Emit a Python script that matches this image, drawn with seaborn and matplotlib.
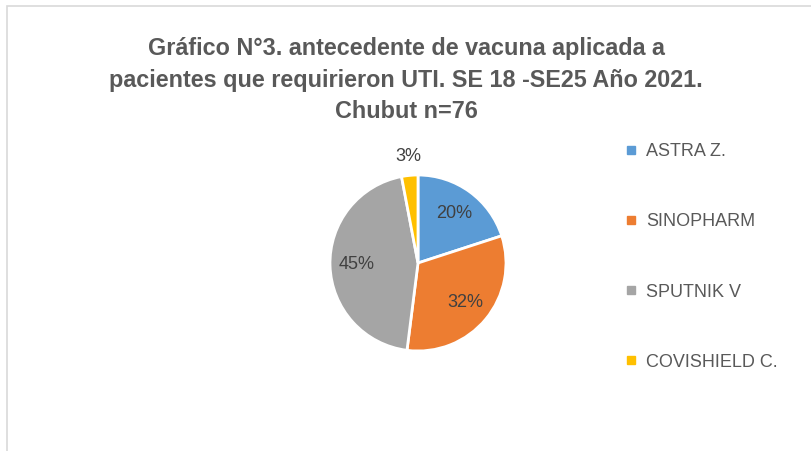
import matplotlib
matplotlib.use("Agg")
import matplotlib.pyplot as plt
import seaborn as sns
from matplotlib.lines import Line2D
from matplotlib.patches import Rectangle

# data
vacunas = ["ASTRA Z.", "SINOPHARM", "SPUTNIK V", "COVISHIELD C."]
porcentajes = [20, 32, 45, 3]
colores = ["#5B9BD5", "#ED7D31", "#A5A5A5", "#FFC000"]
titulo = ("Gráfico N°3. antecedente de vacuna aplicada a\n"
          "pacientes que requirieron UTI. SE 18 -SE25 Año 2021.\n"
          "Chubut n=76")

sns.set_theme(style="white")
plt.rcParams["font.family"] = ["Liberation Sans", "DejaVu Sans"]
texto = "#595959"

fig = plt.figure(figsize=(8.12, 4.51), dpi=100)

# chart frame (only top and left visible in the crop)
fig.patches.append(Rectangle((7 / 812, -0.1), 1.2, (451 - 6) / 451 + 0.1,
                             transform=fig.transFigure, fill=False,
                             edgecolor="#D9D9D9", linewidth=1.2))

fig.text(0.5, 1 - 80 / 451, titulo, ha="center", va="center", fontsize=16.8,
         fontweight="bold", color=texto, linespacing=1.5)

# pie axes centred at (418, 263) px, radius 88 px
r = 88
ax = fig.add_axes([(418 - r) / 812, (451 - 263 - r) / 451, 2 * r / 812, 2 * r / 451])
wedges, textos, autotextos = ax.pie(
    porcentajes, colors=colores, startangle=90, counterclock=False,
    autopct=lambda p: f"{p:.0f}%", pctdistance=0.7,
    wedgeprops=dict(edgecolor="white", linewidth=2),
    textprops=dict(color="#404040", fontsize=13))
ax.set_xlim(-1, 1)
ax.set_ylim(-1, 1)

# small slices: label outside the pie
for t, p in zip(autotextos, porcentajes):
    if p < 5:
        x, y = t.get_position()
        t.set_position((x * 1.22 / 0.7, y * 1.22 / 0.7))

handles = [Line2D([], [], marker="s", linestyle="", markersize=5.5, color=c)
           for c in colores]
leg = fig.legend(handles, vacunas, loc="upper left",
                 bbox_to_anchor=(626 / 812, 1 - 143 / 451), frameon=False,
                 fontsize=13, labelspacing=2.95, handlelength=0.6,
                 handletextpad=0.5, borderpad=0, borderaxespad=0)
for t in leg.get_texts():
    t.set_color(texto)

fig.savefig("out.png", dpi=100)
